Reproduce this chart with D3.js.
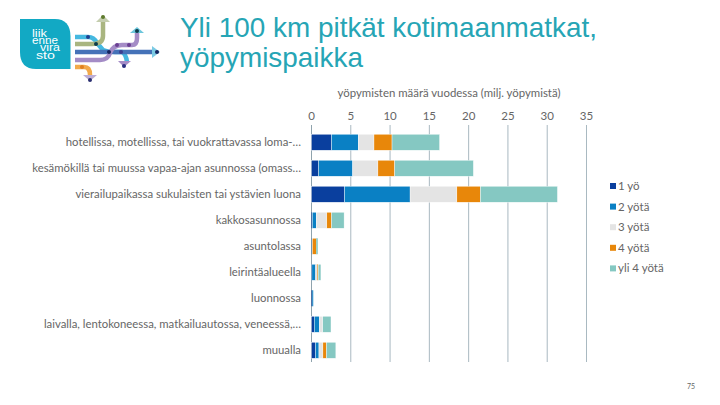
<!DOCTYPE html>
<html><head><meta charset="utf-8">
<script src="https://d3js.org/d3.v7.min.js"></script>
<style>
html,body{margin:0;padding:0;background:#fff}
svg{display:block}
text{font-family:Lato,sans-serif;fill:#666}
</style></head><body>
<svg id="c" width="720" height="405"></svg>
<script>
const categories=["hotellissa, motellissa, tai vuokrattavassa loma-…","kesämökillä tai muussa vapaa-ajan asunnossa (omass…","vierailupaikassa sukulaisten tai ystävien luona","kakkosasunnossa","asuntolassa","leirintäalueella","luonnossa","laivalla, lentokoneessa, matkailuautossa, veneessä,…","muualla"];
const seriesNames=["1 yö","2 yötä","3 yötä","4 yötä","yli 4 yötä"];
const colors=["#0a3f9e","#0a80c4","#e4e4e4","#e8870a","#85c8c2"];
const yo1=[2.55,0.9,4.2,0.1,0.02,0.05,0.1,0.35,0.5];
const yo2=[3.4,4.35,8.35,0.5,0.03,0.45,0.12,0.65,0.45];
const yo3=[2.0,3.2,5.95,1.35,0.05,0.25,0,0.43,0.5];
const yo4=[2.3,2.15,3.0,0.6,0.5,0.1,0,0,0.45];
const yo5=[6.05,10.0,9.8,1.6,0.2,0.35,0,1.05,1.2];
const ticks=[0,5,10,15,20,25,30,35];
const titleLines=["Yli 100 km pitkät kotimaanmatkat,","yöpymispaikka"];
const axisTitle="yöpymisten määrä vuodessa (milj. yöpymistä)";
const pageNo="75";

const svg=d3.select("#c");
const x=d3.scaleLinear().domain([0,35]).range([311.5,586.5]);
const y=d3.scaleBand().domain(categories).range([129.3,363.2]).paddingInner(0.385).paddingOuter(0.19);
const stack=d3.stack().keys([0,1,2,3,4]).value((d,k)=>d[k]);
const rows=categories.map((c,i)=>[yo1[i],yo2[i],yo3[i],yo4[i],yo5[i]]);
const st=stack(rows);

// logo
const logo=svg.append("g");
logo.append("path").attr("d","M20 19H55Q70 19 70.5 36V69H36Q20 69 20 52Z").attr("fill","#12a9c4");
["liik","enne","vira","sto"].forEach((t,i)=>logo.append("text").text(t)
  .attr("x",[32,32,40,36][i]).attr("y",37+i*7.2).attr("font-size",10.5).attr("textLength",[15,26,20,19][i]).attr("lengthAdjust","spacingAndGlyphs").style("fill","#fff").style("font-family","Liberation Sans"));
const pth=(d,c,w)=>logo.append("path").attr("d",d).attr("fill","none").attr("stroke",c).attr("stroke-width",w||4.5);
pth("M75 37H88Q94 37 97 43L103 50Q108 52 115 52L122 52Q126 54 127 62","#45b8e0");
pth("M75 44H92Q103 44 103 36V22","#a9b580");
pth("M75 52H152","#4572b8");
pth("M75 60H100Q108 60 110 53Q113 45 122 45H132Q137 45 137 38V33","#a48cc6");
pth("M75 67H84Q90 67 90 75","#f2a94a");
[["M96 22L103 15L110 22Z","#c4cdae"],["M130 33L137 27L144 33Z","#6cc6dc"],["M152 46L160 52L152 58Z","#7ccbe4"],["M118 61L124 67L131 61Z","#a48cc6"],["M83 75L90 81L97 75Z","#bcaed6"]].forEach(a=>logo.append("path").attr("d",a[0]).attr("fill",a[1]));
[[88,37,"#1f3f8f"],[96,44,"#0c3b4a"],[109,52,"#15245f"],[117,45,"#6a3f92"],[129,45,"#6a3f92"],[121,52,"#3a3f90"],[137,31,"#0c3b4a"],[157,52,"#15245f"],[103,17,"#5e7a2d"],[124,66,"#2a2f80"],[82,67,"#e08020"],[90,80,"#2a2f70"]].forEach(p=>logo.append("circle").attr("cx",p[0]).attr("cy",p[1]).attr("r",2).attr("fill",p[2]));

// title
titleLines.forEach((t,i)=>svg.append("text").text(t).attr("x",180).attr("y",37+i*30)
  .attr("font-size",27.9).style("font-family","Liberation Sans").style("fill","#26a5b5"));

svg.append("text").text(axisTitle).attr("x",449).attr("y",97).attr("text-anchor","middle").attr("font-size",11.4);

// grid
svg.append("g").selectAll("line").data(ticks).join("line")
  .attr("x1",d=>x(d)).attr("x2",d=>x(d)).attr("y1",125).attr("y2",362)
  .attr("stroke",d=>d===0?"#8fa3ad":"#a9b9c1").attr("stroke-width",1);
svg.append("g").selectAll("text").data(ticks).join("text").text(d=>d)
  .attr("x",d=>x(d)).attr("y",120).attr("text-anchor","middle").attr("font-size",11.5);

// bars
svg.append("g").selectAll("g").data(st).join("g").attr("fill",(d,i)=>colors[i])
 .selectAll("rect").data(d=>d).join("rect")
 .attr("x",d=>x(d[0])).attr("width",d=>x(d[1])-x(d[0]))
 .attr("y",(d,i)=>y(categories[i])).attr("height",y.bandwidth())
 .attr("stroke","#fff").attr("stroke-width",d=>(d[1]-d[0])>0.3?0.4:0);

// category labels
svg.append("g").selectAll("text").data(categories).join("text").text(d=>d)
  .attr("x",301).attr("y",d=>y(d)+y.bandwidth()/2+4).attr("text-anchor","end").attr("font-size",11.35);

// legend
const lg=svg.append("g").selectAll("g").data(seriesNames).join("g")
  .attr("transform",(d,i)=>`translate(610,${186+i*20.6})`);
lg.append("rect").attr("x",0).attr("y",-3).attr("width",6).attr("height",6).attr("fill",(d,i)=>colors[i]);
lg.append("text").text(d=>d).attr("x",8).attr("y",4).attr("font-size",11.5);

svg.append("text").text(pageNo).attr("x",695).attr("y",389).attr("text-anchor","end").attr("font-size",7);
</script></body></html>
